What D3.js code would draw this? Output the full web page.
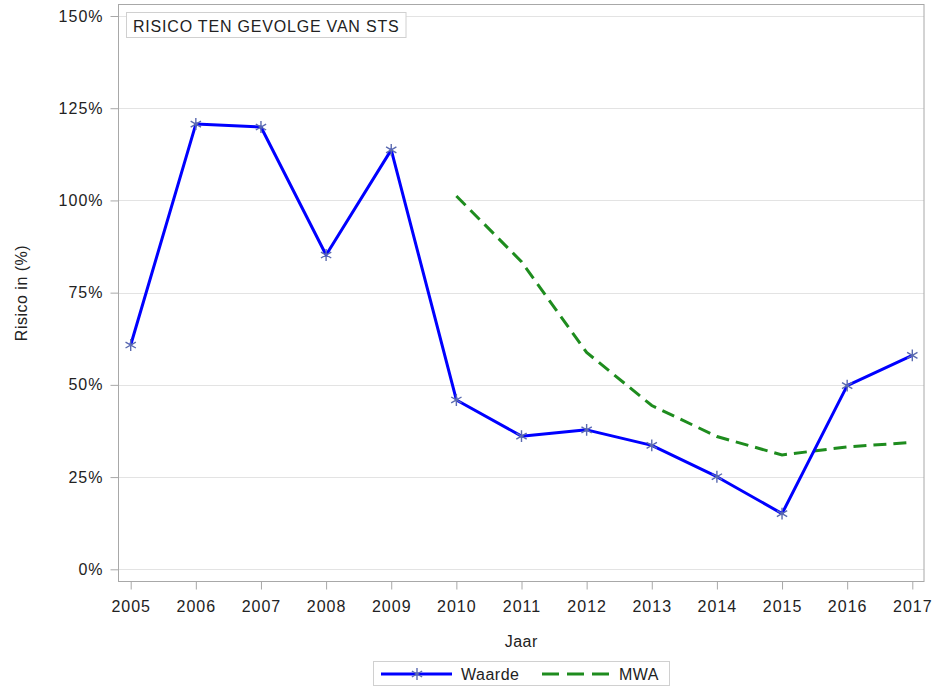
<!DOCTYPE html>
<html>
<head>
<meta charset="utf-8">
<script src="https://cdn.jsdelivr.net/npm/d3@7"></script>
<style>
  html, body { margin: 0; padding: 0; background: #fff; }
  svg text { font-family: "Liberation Sans", Arial, sans-serif; fill: #222; }
</style>
</head>
<body>
<svg id="chart" width="941" height="688"></svg>
<script>
const years = [2005, 2006, 2007, 2008, 2009, 2010, 2011, 2012, 2013, 2014, 2015, 2016, 2017];
const waarde = [60.8, 120.7, 119.9, 85.2, 113.7, 45.9, 36.1, 37.8, 33.6, 25.1, 15.1, 49.8, 58.0];
const mwaYears = [2010, 2011, 2012, 2013, 2014, 2015, 2016, 2017];
const mwa = [101.2, 83.4, 58.8, 44.4, 36.0, 31.0, 33.2, 34.4];
const yTicks = [0, 25, 50, 75, 100, 125, 150];
const titleText = "RISICO TEN GEVOLGE VAN STS";
const xLabel = "Jaar";
const yLabel = "Risico in (%)";
const legendLabels = ["Waarde", "MWA"];

const svg = d3.select("#chart");
const frame = { left: 118.5, right: 924, top: 4.5, bottom: 581.5 };

const x = d3.scaleLinear().domain([2005, 2017]).range([130.7, 912.3]);
const y = d3.scaleLinear().domain([0, 150]).range([569.3, 16]);

// gridlines
svg.append("g").selectAll("line").data(yTicks).join("line")
  .attr("x1", frame.left).attr("x2", frame.right)
  .attr("y1", d => Math.round(y(d)) + 0.5).attr("y2", d => Math.round(y(d)) + 0.5)
  .attr("stroke", "#e3e3e3").attr("stroke-width", 1);

// frame
svg.append("rect")
  .attr("x", frame.left).attr("y", frame.top)
  .attr("width", frame.right - frame.left).attr("height", frame.bottom - frame.top)
  .attr("fill", "none").attr("stroke", "#a8a8a8").attr("stroke-width", 1);

// y axis
const yAxis = d3.axisLeft(y).tickValues(yTicks).tickFormat(d => d + "%").tickSize(8).tickPadding(7);
const gy = svg.append("g").attr("transform", `translate(${frame.left},0)`).call(yAxis);
gy.select(".domain").remove();
gy.selectAll(".tick line").attr("stroke", "#a8a8a8");
gy.selectAll(".tick text").attr("font-size", 16).attr("letter-spacing", "1px").attr("fill", "#222")
  .style("font-family", '"Liberation Sans", Arial, sans-serif');

// x axis
const xAxis = d3.axisBottom(x).tickValues(years).tickFormat(d3.format("d")).tickSize(8).tickPadding(11);
const gx = svg.append("g").attr("transform", `translate(0,${frame.bottom})`).call(xAxis);
gx.select(".domain").remove();
gx.selectAll(".tick line").attr("stroke", "#a8a8a8");
gx.selectAll(".tick text").attr("font-size", 16).attr("letter-spacing", "1px").attr("fill", "#222")
  .style("font-family", '"Liberation Sans", Arial, sans-serif');

// axis labels
svg.append("text").attr("x", (frame.left + frame.right) / 2).attr("y", 647)
  .attr("text-anchor", "middle").attr("font-size", 16).attr("letter-spacing", "0.5px").text(xLabel);
svg.append("text")
  .attr("transform", `translate(27,${(frame.top + frame.bottom) / 2}) rotate(-90)`)
  .attr("text-anchor", "middle").attr("font-size", 16).attr("letter-spacing", "0.5px").text(yLabel);

// title box
const tg = svg.append("g");
const tt = tg.append("text").attr("x", 133).attr("y", 32).attr("font-size", 16)
  .attr("letter-spacing", "0.8px").text(titleText);
const tw = tt.node().getComputedTextLength();
tg.insert("rect", "text").attr("x", 126.5).attr("y", 12.5).attr("width", tw + 13).attr("height", 25)
  .attr("fill", "#fff").attr("stroke", "#d0d0d0");

// lines
const lineW = d3.line().x((d, i) => x(years[i])).y(d => y(d));
const lineM = d3.line().x((d, i) => x(mwaYears[i])).y(d => y(d));

svg.append("path").datum(mwa).attr("d", lineM)
  .attr("fill", "none").attr("stroke", "#1e8c1e").attr("stroke-width", 3)
  .attr("stroke-dasharray", "13,7");

svg.append("path").datum(waarde).attr("d", lineW)
  .attr("fill", "none").attr("stroke", "#0000ff").attr("stroke-width", 3)
  .attr("stroke-linejoin", "round");

const star = d3.symbol().type(d3.symbolAsterisk).size(100);
svg.append("g").selectAll("path").data(waarde).join("path")
  .attr("d", star)
  .attr("transform", (d, i) => `translate(${x(years[i])},${y(d)})`)
  .attr("fill", "none").attr("stroke", "#5a6ab0").attr("stroke-width", 1.4);

// legend
const lg = svg.append("g");
lg.append("rect").attr("x", 373.5).attr("y", 661.5).attr("width", 296).attr("height", 24)
  .attr("fill", "#fff").attr("stroke", "#d0d0d0");
lg.append("line").attr("x1", 381).attr("x2", 452).attr("y1", 674).attr("y2", 674)
  .attr("stroke", "#0000ff").attr("stroke-width", 3);
lg.append("path").attr("d", star).attr("transform", "translate(417,674)")
  .attr("fill", "none").attr("stroke", "#5a6ab0").attr("stroke-width", 1.4);
lg.append("text").attr("x", 461).attr("y", 680).attr("font-size", 16).attr("letter-spacing", "0.5px").text(legendLabels[0]);
lg.append("line").attr("x1", 542).attr("x2", 609).attr("y1", 674).attr("y2", 674)
  .attr("stroke", "#1e8c1e").attr("stroke-width", 3).attr("stroke-dasharray", "17,8");
lg.append("text").attr("x", 619).attr("y", 680).attr("font-size", 16).attr("letter-spacing", "0.5px").text(legendLabels[1]);
</script>
</body>
</html>
